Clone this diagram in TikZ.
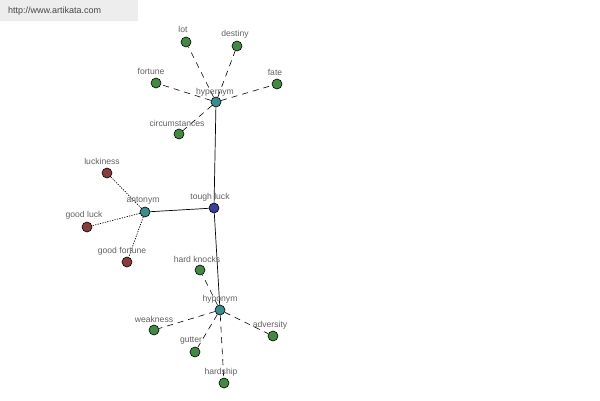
\documentclass[tikz,border=0pt]{standalone}
\usepackage{fontspec}
\setmainfont{Liberation Sans}
\definecolor{cleaf}{HTML}{428A42}
\definecolor{cant}{HTML}{8A3C3C}
\definecolor{chub}{HTML}{3C8C8C}
\definecolor{croot}{HTML}{3C3C9A}
\begin{document}
\begin{tikzpicture}[x=1pt,y=-1pt,
  dot/.style={circle,draw=black,line width=0.6pt,minimum size=10pt,inner sep=0pt},
  leaf/.style={dot,fill=cleaf},
  ant/.style={dot,fill=cant},
  hub/.style={dot,fill=chub},
  root/.style={dot,fill=croot},
  lab/.style={font=\fontsize{8.6}{10}\selectfont,text=black!62,inner sep=0pt},
  hard/.style={line width=0.7pt},
  dashe/.style={line width=0.6pt,dash pattern=on 6pt off 5pt},
  dote/.style={line width=0.7pt,dash pattern=on 1.2pt off 1.3pt}]
\useasboundingbox (0,0) rectangle (600,400);
\fill[black!7] (0,0) rectangle (138,21);
\node[font=\fontsize{9}{10}\selectfont,text=black!72,anchor=west,inner sep=0pt] (url) at (8,11) {http://www.artikata.com};
% nodes
\node[root] (tl) at (214,208) {};
\node[hub] (hyper) at (216,102) {};
\node[hub] (anto) at (145,212) {};
\node[hub] (hypo) at (220,310) {};
\node[leaf] (lot) at (186,42) {};
\node[leaf] (destiny) at (237,46) {};
\node[leaf] (fortune) at (156,83) {};
\node[leaf] (fate) at (277,84) {};
\node[leaf] (circ) at (179,134) {};
\node[ant] (luck) at (107,173) {};
\node[ant] (goodluck) at (87,227) {};
\node[ant] (goodfort) at (127,262) {};
\node[leaf] (hk) at (200,270) {};
\node[leaf] (weak) at (154,330) {};
\node[leaf] (gutter) at (195,352) {};
\node[leaf] (adv) at (273,336) {};
\node[leaf] (hardship) at (224,383) {};
% edges
\draw[hard] (tl) -- (hyper);
\draw[hard] (tl) -- (anto);
\draw[hard] (tl) -- (hypo);
\foreach \n in {lot,destiny,fortune,fate,circ} \draw[dashe] (hyper) -- (\n);
\foreach \n in {luck,goodluck,goodfort} \draw[dote] (anto) -- (\n);
\foreach \n in {hk,weak,gutter,adv,hardship} \draw[dashe] (hypo) -- (\n);
% labels
\node[lab] (ltl) at (210,197) {tough luck};
\node[lab] (lhyper) at (215,92) {hypernym};
\node[lab] (lanto) at (143,201) {antonym};
\node[lab] (lhypo) at (220,299) {hyponym};
\node[lab] (llot) at (183,29) {lot};
\node[lab] (ldest) at (235,34) {destiny};
\node[lab] (lfort) at (151,71) {fortune};
\node[lab] (lfate) at (275,72) {fate};
\node[lab] (lcirc) at (177,123) {circumstances};
\node[lab] (lluck) at (102,161) {luckiness};
\node[lab] (lgl) at (84,215) {good luck};
\node[lab] (lgf) at (122,251) {good fortune};
\node[lab] (lhk) at (197,259) {hard knocks};
\node[lab] (lweak) at (154,319) {weakness};
\node[lab] (lgut) at (191,341) {gutter};
\node[lab] (ladv) at (270,325) {adversity};
\node[lab] (lhs) at (221,372) {hardship};
\end{tikzpicture}
\end{document}
